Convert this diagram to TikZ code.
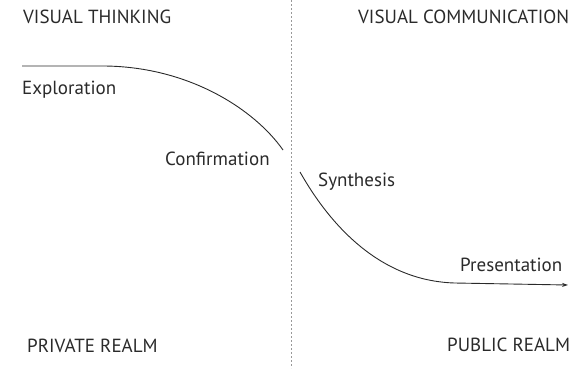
\documentclass[tikz,border=0pt]{standalone}
\usepackage{fontspec}
\setmainfont{PT Sans}
\usetikzlibrary{arrows.meta}
\definecolor{ink}{HTML}{2A2A2A}
\tikzset{
  lbl/.style={anchor=base west,inner sep=0pt,text=ink,font=\fontsize{19}{21}\selectfont},
  flow/.style={draw=ink,line width=0.9pt},
  divider/.style={draw=gray!80,line width=0.8pt,dash pattern=on 2pt off 2pt}
}
\begin{document}
\begin{tikzpicture}[x=1pt,y=-1pt]
\useasboundingbox (0,0) rectangle (585,368);
\coordinate (dtop) at (291,0);
\coordinate (dbot) at (291,368);
\draw[divider] (dtop) -- (dbot);
\node[lbl] (vt) at (23,23) {VISUAL THINKING};
\node[lbl] (vc) at (358,23) {VISUAL COMMUNICATION};
\node[lbl] (ex) at (22,94) {Exploration};
\node[lbl] (co) at (165,165) {Confirmation};
\node[lbl] (sy) at (318,186) {Synthesis};
\node[lbl] (pr) at (460,271) {Presentation};
\node[lbl] (pv) at (27,352) {PRIVATE REALM};
\node[lbl] (pu) at (447,351) {PUBLIC REALM};
\coordinate (a0) at (22,66);
\coordinate (a1) at (105,66);
\coordinate (a2) at (283,150);
\coordinate (b0) at (300,172);
\coordinate (b1) at (455,283);
\coordinate (b2) at (568,285);
\draw[flow] (a0) -- (a1) .. controls (190,67) and (255,110) .. (a2);
\draw[flow,-{Stealth[length=6pt,width=4pt]}] (b0) .. controls (330,225) and (380,281) .. (b1) -- (b2);
\end{tikzpicture}
\end{document}
